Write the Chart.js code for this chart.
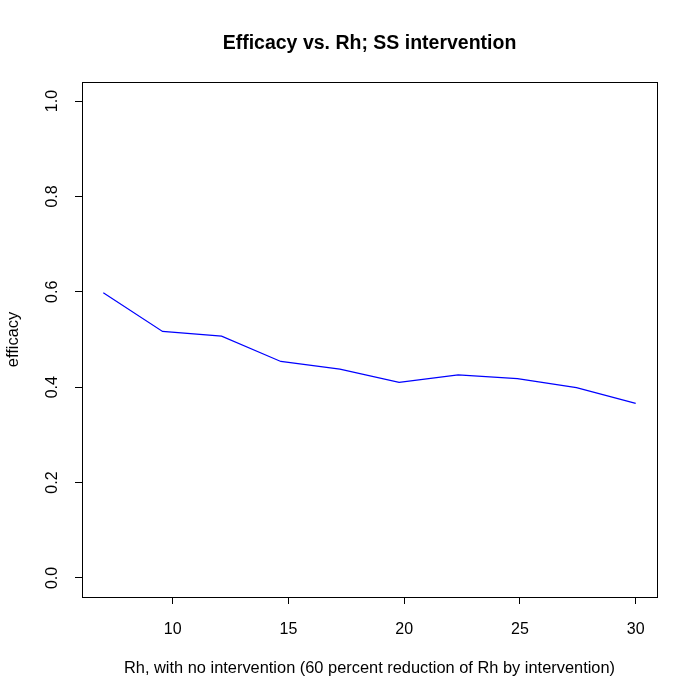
<!DOCTYPE html>
<html>
<head>
<meta charset="utf-8">
<script src="https://cdn.jsdelivr.net/npm/chart.js@4/dist/chart.umd.min.js"></script>
<style>
  html, body { margin: 0; padding: 0; background: #fff; }
  #wrap { width: 700px; height: 700px; position: relative; }
</style>
</head>
<body>
<div id="wrap"><canvas id="chart"></canvas></div>
<script>
// data
const rhValues = [7.0, 9.56, 12.11, 14.67, 17.22, 19.78, 22.33, 24.89, 27.44, 30.0];
const efficacy = [0.598, 0.517, 0.507, 0.454, 0.438, 0.410, 0.426, 0.418, 0.399, 0.366];
const xTicks = [10, 15, 20, 25, 30];
const yTicks = [0, 0.2, 0.4, 0.6, 0.8, 1.0];

const mainTitle = "Efficacy vs. Rh; SS intervention";
const xTitle = "Rh, with no intervention (60 percent reduction of Rh by intervention)";
const yTitle = "efficacy";

const FONT = "'Liberation Sans', Arial, Helvetica, sans-serif";

// box round the plot + main title, like R's base graphics
const framePlugin = {
    id: "frame",
    afterDraw(chart) {
        const { ctx, chartArea: a } = chart;
        ctx.save();
        ctx.strokeStyle = "#000";
        ctx.lineWidth = 1;
        ctx.strokeRect(Math.round(a.left) + 0.5, Math.round(a.top) + 0.5,
            Math.round(a.right - a.left), Math.round(a.bottom - a.top));
        ctx.fillStyle = "#000";
        ctx.font = "bold 19.5px " + FONT;
        ctx.textAlign = "center";
        ctx.textBaseline = "middle";
        ctx.fillText(mainTitle, (a.left + a.right) / 2, 44);
        ctx.restore();
    }
};

new Chart(document.getElementById("chart").getContext("2d"), {
    type: "line",
    data: {
        datasets: [{
            data: rhValues.map((x, i) => ({ x: x, y: efficacy[i] })),
            borderColor: "#0000ff",
            borderWidth: 1.2,
            pointRadius: 0,
            fill: false,
            tension: 0
        }]
    },
    options: {
        responsive: true,
        maintainAspectRatio: false,
        animation: false,
        layout: { padding: { top: 82, right: 43, left: 0, bottom: 0 } },
        plugins: {
            legend: { display: false },
            tooltip: { enabled: false }
        },
        scales: {
            x: {
                type: "linear",
                min: 6.08,
                max: 30.92,
                afterBuildTicks: s => { s.ticks = xTicks.map(v => ({ value: v })); },
                afterFit: s => { s.height = 103; },
                border: { display: false },
                grid: { drawOnChartArea: false, drawTicks: true, tickLength: 7, color: "#000" },
                ticks: {
                    color: "#000",
                    font: { family: FONT, size: 16 },
                    padding: 16,
                    maxRotation: 0,
                    callback: v => String(v)
                },
                title: {
                    display: true,
                    text: xTitle,
                    color: "#000",
                    font: { family: FONT, size: 16.4 },
                    padding: { top: 0, bottom: 22 }
                }
            },
            y: {
                type: "linear",
                min: -0.04,
                max: 1.04,
                afterBuildTicks: s => { s.ticks = yTicks.map(v => ({ value: v })); },
                afterFit: s => { s.width = 82; },
                border: { display: false },
                grid: { drawOnChartArea: false, drawTicks: true, tickLength: 7, color: "#000" },
                ticks: {
                    color: "#000",
                    font: { family: FONT, size: 16 },
                    padding: 11,
                    minRotation: 90,
                    maxRotation: 90,
                    crossAlign: "center",
                    callback: v => v.toFixed(1)
                },
                title: {
                    display: true,
                    text: yTitle,
                    color: "#000",
                    font: { family: FONT, size: 16.4 },
                    padding: { top: 4, bottom: 0 }
                }
            }
        }
    },
    plugins: [framePlugin]
});
</script>
</body>
</html>
